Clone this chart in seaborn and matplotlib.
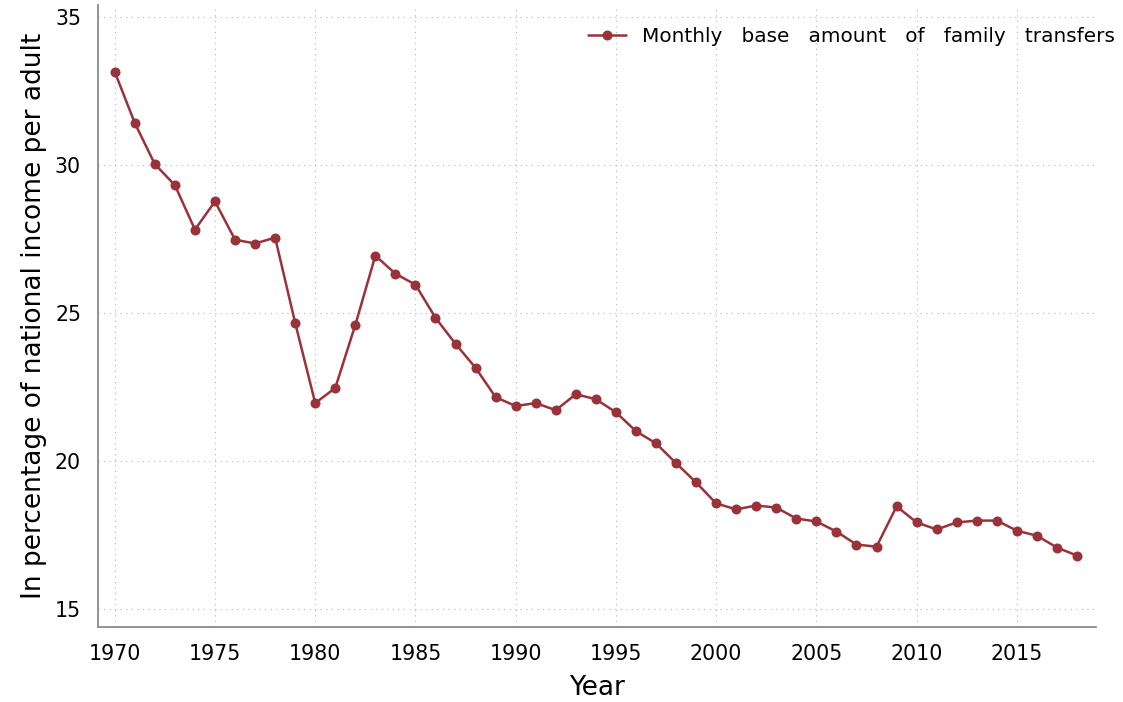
import numpy as np
import pandas as pd
import seaborn as sns
import matplotlib
matplotlib.use("Agg")
import matplotlib.pyplot as plt

years = list(range(1970, 2019))
transfers = [
    33.14, 31.41, 30.02, 29.31, 27.81, 28.76, 27.47, 27.34, 27.54, 24.66,
    21.95, 22.46, 24.59, 26.93, 26.32, 25.95, 24.83, 23.95, 23.14, 22.15,
    21.85, 21.95, 21.71, 22.25, 22.08, 21.64, 21.00, 20.59, 19.92, 19.27,
    18.56, 18.36, 18.49, 18.42, 18.05, 17.95, 17.61, 17.17, 17.10, 18.46,
    17.92, 17.68, 17.92, 17.98, 17.98, 17.64, 17.47, 17.07, 16.80,
]
series_label = "Monthly   base   amount   of   family   transfers"
x_ticks = [1970, 1975, 1980, 1985, 1990, 1995, 2000, 2005, 2010, 2015]
y_ticks = [15, 20, 25, 30, 35]

df = pd.DataFrame({"Year": years, "value": transfers})

sns.set_theme(style="white")
plt.rcParams["font.family"] = ["DejaVu Sans"]
plt.rcParams["text.color"] = "black"
plt.rcParams["axes.labelcolor"] = "black"
plt.rcParams["xtick.color"] = "black"
plt.rcParams["ytick.color"] = "black"

fig = plt.figure(figsize=(11.23, 7.02), dpi=100)
ax = fig.add_axes([0.087, 0.107, 0.889, 0.886])

line_color = "#993339"
sns.lineplot(data=df, x="Year", y="value", ax=ax, color=line_color,
             marker="o", markersize=7.2, markeredgewidth=0, linewidth=1.8,
             label=series_label)

ax.set_xlim(1969.15, 2018.95)
ax.set_ylim(14.39, 35.4)
ax.set_xticks(x_ticks)
ax.set_yticks(y_ticks)

ax.grid(True, linestyle=(0, (1, 4)), color="#b5b5b5", linewidth=0.8)
for side in ["top", "right"]:
    ax.spines[side].set_visible(False)
for side in ["left", "bottom"]:
    ax.spines[side].set_color("#8a8a8a")
    ax.spines[side].set_linewidth(1.3)

ax.tick_params(axis="both", which="major", direction="out", length=7,
               width=1.3, color="#8a8a8a", labelcolor="black",
               labelsize=14.8, pad=5)

ax.set_xlabel("Year", fontsize=19, labelpad=8.5)
ax.set_ylabel("In percentage of national income per adult", fontsize=19, labelpad=5.7)

leg = ax.legend(loc="upper right", frameon=False, fontsize=14.4,
                handlelength=1.9, handletextpad=0.8, borderaxespad=0.0,
                bbox_to_anchor=(1.027, 0.977))
for t in leg.get_texts():
    t.set_color("black")

fig.savefig("out.png", dpi=100)
